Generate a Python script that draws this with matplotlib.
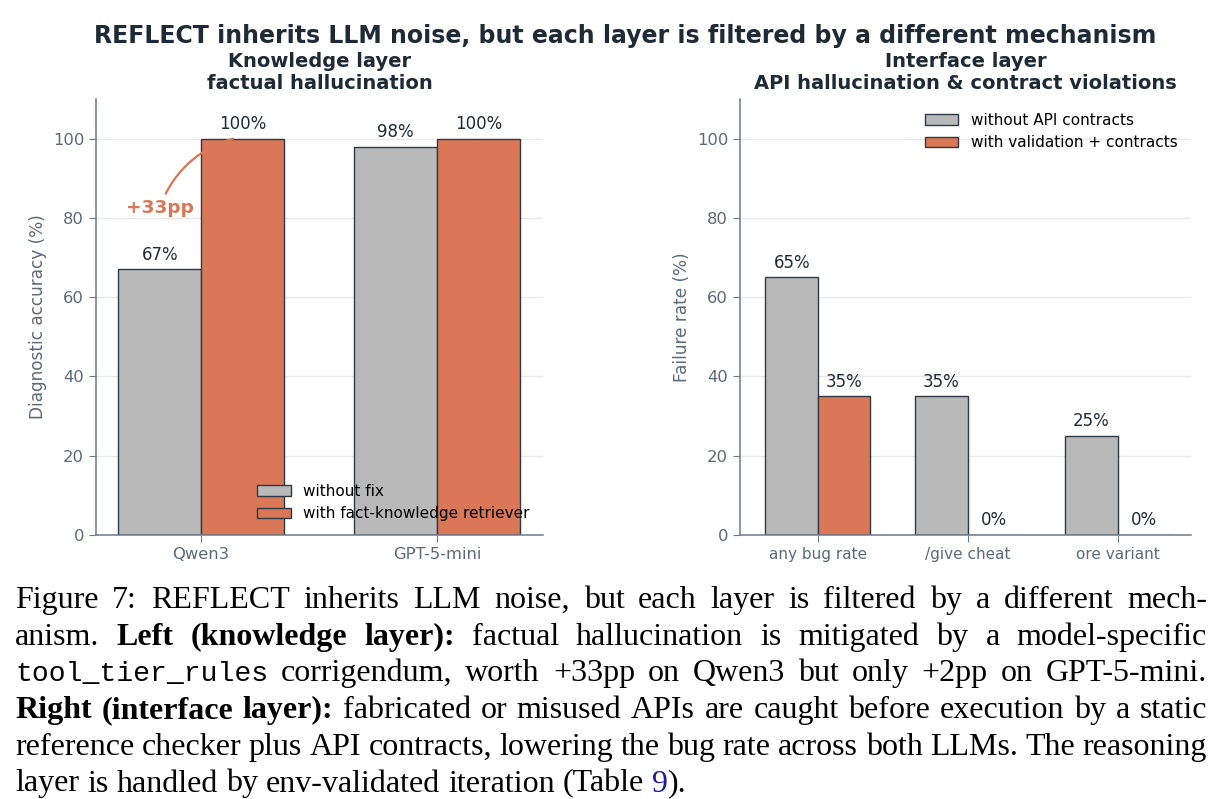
import re
import matplotlib
matplotlib.use("Agg")
import matplotlib.pyplot as plt

# ---- data ----
models = ["Qwen3", "GPT-5-mini"]
acc_without = [67, 98]
acc_with = [100, 100]

checks = ["any bug rate", "/give cheat", "ore variant"]
fail_without = [65, 35, 25]
fail_with = [35, 0, 0]

caption_lines = [
    "Figure 7:  REFLECT inherits LLM noise, but each layer is filtered by a different mech-",
    "anism.  **Left** **(knowledge** **layer):**  factual hallucination is mitigated by a model-specific",
    "`tool_tier_rules` corrigendum, worth +33pp on Qwen3 but only +2pp on GPT-5-mini.",
    "**Right** **(interface** **layer):** fabricated or misused APIs are caught before execution by a static",
    "reference checker plus API contracts, lowering the bug rate across both LLMs. The reasoning",
    "layer is handled by env-validated iteration (Table [9]).",
]

GRAY = "#b9b9b9"
ORANGE = "#d97757"
EDGE = "#2e3a46"
DARK = "#1f2a37"
MUTED = "#5d6978"
SPINE = "#6f7b88"
W = 0.35

plt.rcParams["font.family"] = "DejaVu Sans"

fig = plt.figure(figsize=(12.24, 7.99), dpi=100)
fig.text(0.511, 0.955, "REFLECT inherits LLM noise, but each layer is filtered by a different mechanism",
         ha="center", va="center", fontsize=17, fontweight="bold", color=DARK)

axL = fig.add_axes([96 / 1224, 1 - 535 / 799, 447 / 1224, 436 / 799])
axR = fig.add_axes([740 / 1224, 1 - 535 / 799, 451 / 1224, 436 / 799])


def style(ax, ylabel):
    ax.set_ylim(0, 110)
    ax.set_yticks([0, 20, 40, 60, 80, 100])
    ax.grid(axis="y", color="#e6e8eb", lw=1)
    ax.set_axisbelow(True)
    for s in ["top", "right"]:
        ax.spines[s].set_visible(False)
    for s in ["left", "bottom"]:
        ax.spines[s].set_color(SPINE)
        ax.spines[s].set_linewidth(1.1)
    ax.tick_params(colors=SPINE, labelcolor=MUTED, labelsize=11.8, length=5)
    ax.set_ylabel(ylabel, color=MUTED, fontsize=12.2)


# left panel
x = range(len(models))
b1 = axL.bar([i - W / 2 for i in x], acc_without, W, color=GRAY, edgecolor=EDGE, lw=1, label="without fix")
b2 = axL.bar([i + W / 2 for i in x], acc_with, W, color=ORANGE, edgecolor=EDGE, lw=1,
             label="with fact-knowledge retriever")
for b in (b1, b2):
    axL.bar_label(b, labels=[f"{v}%" for v in b.datavalues], padding=4, fontsize=12, color=DARK)
axL.set_xticks(list(x))
axL.set_xticklabels(models)
axL.set_xlim(-0.445, 1.449)
style(axL, "Diagnostic accuracy (%)")
axL.set_title("Knowledge layer\nfactual hallucination", fontsize=14, fontweight="bold", color=DARK,
              pad=7, linespacing=1.2)
axL.legend(loc="lower right", frameon=False, fontsize=11, handlelength=2.2)
gain = acc_with[0] - acc_without[0]
axL.annotate(f"+{gain}pp", xy=(0.135, acc_with[0]), xytext=(-0.176, 82.5),
             ha="center", va="center", fontsize=13.3, fontweight="bold", color=ORANGE,
             arrowprops=dict(arrowstyle="-", color=ORANGE, lw=1.6,
                             connectionstyle="arc3,rad=-0.25", shrinkA=2, shrinkB=0))

# right panel
x = range(len(checks))
c1 = axR.bar([i - W / 2 for i in x], fail_without, W, color=GRAY, edgecolor=EDGE, lw=1,
             label="without API contracts")
c2 = axR.bar([i + W / 2 for i in x], fail_with, W, color=ORANGE, edgecolor=EDGE, lw=1,
             label="with validation + contracts")
for b in (c1, c2):
    axR.bar_label(b, labels=[f"{v}%" for v in b.datavalues], padding=4, fontsize=12, color=DARK)
axR.set_xticks(list(x))
axR.set_xticklabels(checks)
axR.set_xlim(-0.52, 2.49)
style(axR, "Failure rate (%)")
axR.tick_params(axis="x", labelsize=11)
axR.set_title("Interface layer\nAPI hallucination & contract violations", fontsize=14,
              fontweight="bold", color=DARK, pad=7, linespacing=1.2)
axR.legend(loc="upper right", frameon=False, fontsize=11, handlelength=2.2)

# ---- caption, justified ----
renderer = fig.canvas.get_renderer()


def piece_props(kind, size):
    p = dict(fontsize=size, family="Liberation Serif", color="black", va="baseline")
    if kind == "b":
        p["fontweight"] = "bold"
    elif kind == "m":
        p["family"] = "Liberation Mono"
        p["fontsize"] = size * 0.88
    elif kind == "l":
        p["color"] = "#1d1d9e"
    return p


def parse(word):
    out = []
    for m in re.finditer(r"\*\*(.+?)\*\*|`(.+?)`|\[(.+?)\]|([^*`\[]+)", word):
        if m.group(1):
            out.append((m.group(1), "b"))
        elif m.group(2):
            out.append((m.group(2), "m"))
        elif m.group(3):
            out.append((m.group(3), "l"))
        else:
            out.append((m.group(4), "n"))
    return out


def width(s, props):
    t = fig.text(0, 0, s, **props)
    w = t.get_window_extent(renderer).width
    t.remove()
    return w


def line_width(line, size):
    words = [parse(w) for w in line.split()]
    return sum(width(s, piece_props(k, size)) for wd in words for s, k in wd), len(words)


# pick the caption size from the width of the last (unjustified) line
CAP = 21.0
lw_, n_ = line_width(caption_lines[-1], CAP)
sp = width("a a", piece_props("n", CAP)) - width("aa", piece_props("n", CAP))
CAP = CAP * 670 / (lw_ + sp * (n_ - 1))
for line in caption_lines[:-1]:
    lw_, n_ = line_width(line, CAP)
    sp = width("a a", piece_props("n", CAP)) - width("aa", piece_props("n", CAP))
    need = lw_ + 0.75 * sp * (n_ - 1)
    if need > 1192:
        CAP *= 1192 / need

space_w = width("a a", piece_props("n", CAP)) - width("aa", piece_props("n", CAP))
x0, x1 = 15, 1207
y0, dy = 608, 36.7
for li, line in enumerate(caption_lines):
    words = [parse(w) for w in line.split()]
    wws = [sum(width(s, piece_props(k, CAP)) for s, k in wd) for wd in words]
    last = li == len(caption_lines) - 1
    gap = space_w if last else (x1 - x0 - sum(wws)) / (len(words) - 1)
    xp = x0
    yf = 1 - (y0 + li * dy) / 799
    for wd, ww in zip(words, wws):
        xx = xp
        for s, k in wd:
            pp = piece_props(k, CAP)
            fig.text(xx / 1224, yf, s, **pp)
            xx += width(s, pp)
        xp += ww + gap

fig.savefig("out.png", dpi=100)
